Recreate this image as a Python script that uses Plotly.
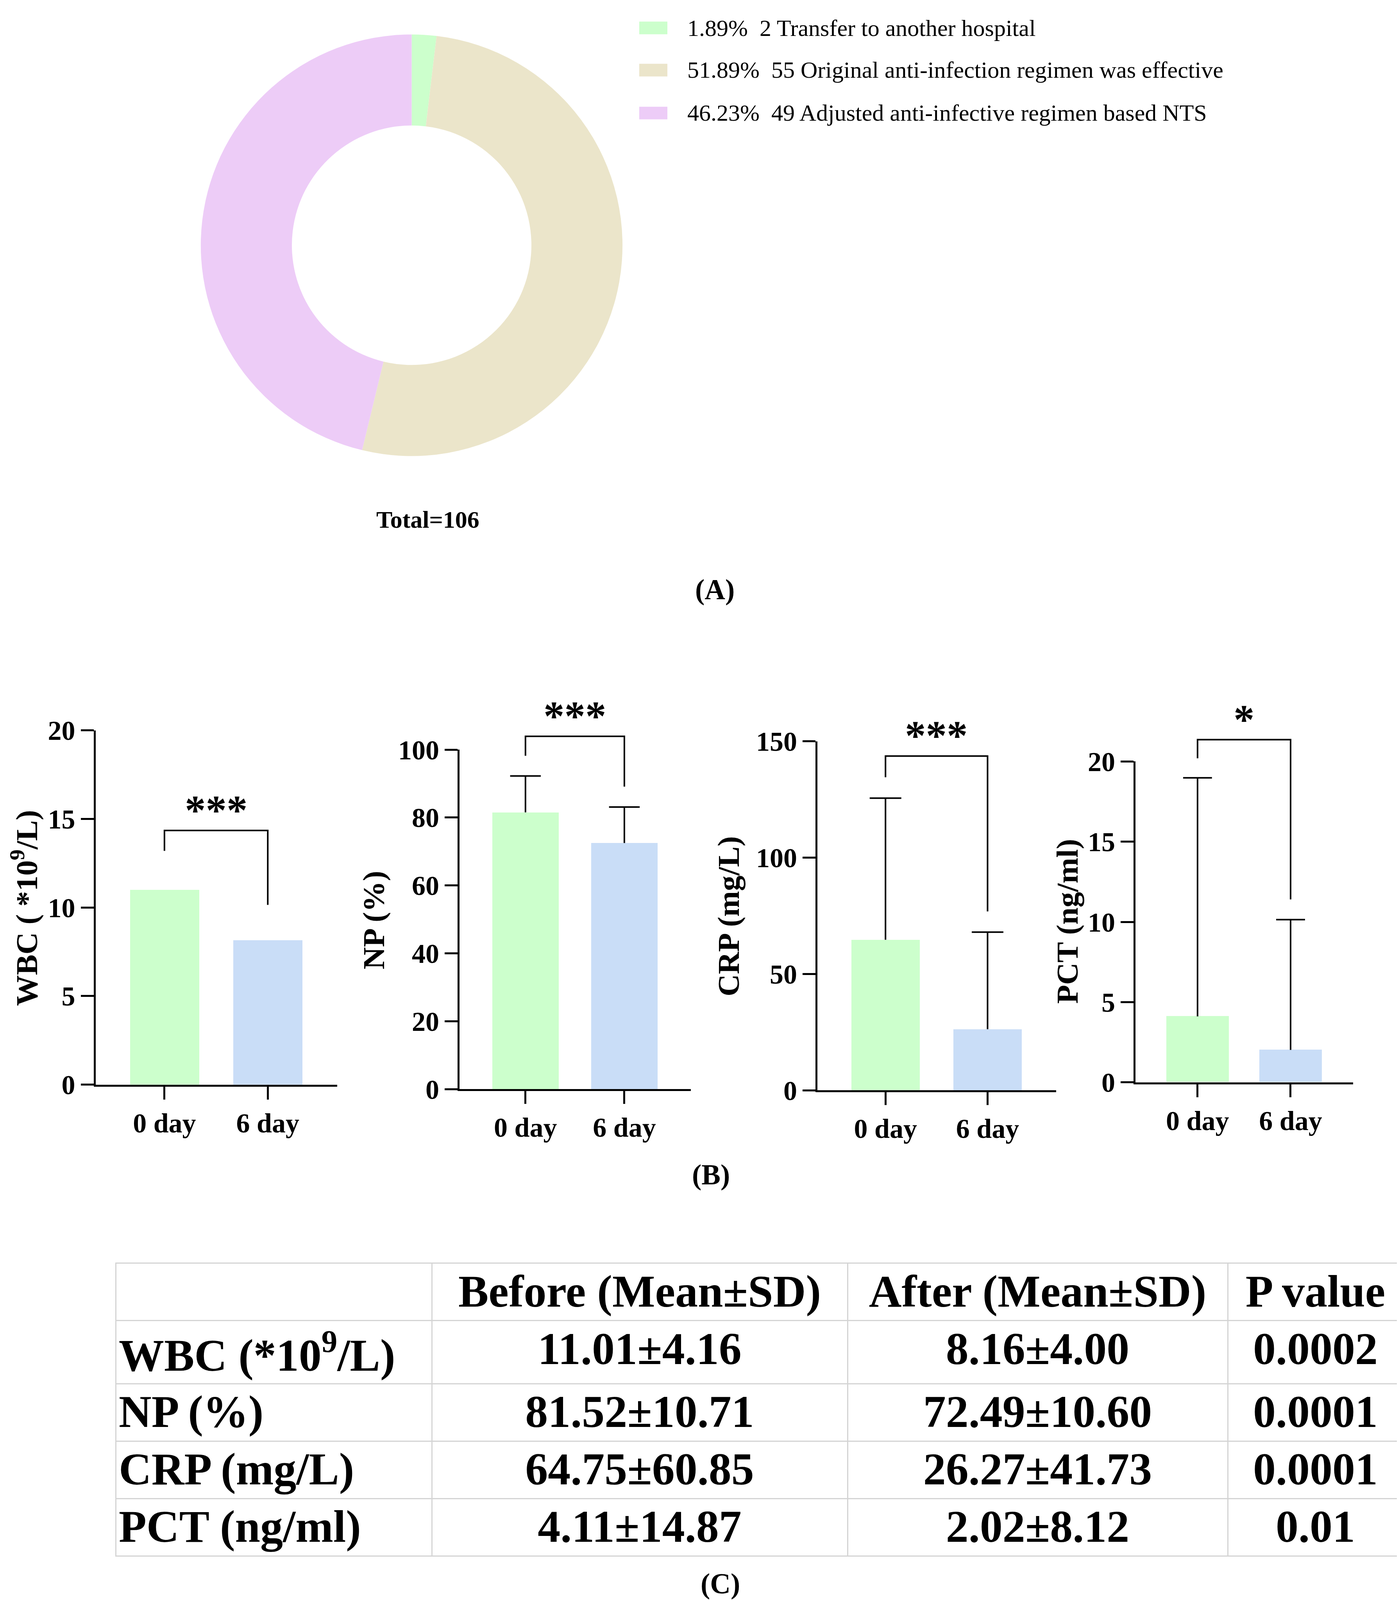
import plotly.graph_objects as go

W, H = 3583, 4138
SERIF = "Liberation Serif, Times New Roman, serif"

# (A) outcome of the patients
outcome_labels = ["Transfer to another hospital",
                  "Original anti-infection regimen was effective",
                  "Adjusted anti-infective regimen based NTS"]
outcome_counts = [2, 55, 49]
outcome_colors = ["#CCFFCC", "#EBE5CA", "#EDCCF7"]

# (B) / (C) inflammatory markers, before vs after
marker_names = ["WBC", "NP", "CRP", "PCT"]
marker_units = ["(*10<sup>9</sup>/L)", "(%)", "(mg/L)", "(ng/ml)"]
axis_titles = ["WBC ( *10<sup>9</sup>/L)", "NP (%)", "CRP (mg/L)", "PCT (ng/ml)"]
day_labels = ["0 day", "6 day"]
mean_before = [11.01, 81.52, 64.75, 4.11]
sd_before = [4.16, 10.71, 60.85, 14.87]
mean_after = [8.16, 72.49, 26.27, 2.02]
sd_after = [4.00, 10.60, 41.73, 8.12]
p_values = ["0.0002", "0.0001", "0.0001", "0.01"]
sig_marks = ["***", "***", "***", "*"]
y_max = [20, 100, 150, 20]
y_dtick = [5, 20, 50, 5]
show_sd = [False, True, True, True]  # WBC panel has no error bars
# comparison brackets (left foot, top, right foot)
bracket_left = [13.2, 98.2, 134.6, 20.2]
bracket_top = [14.35, 103.9, 143.7, 21.36]
bracket_right = [10.15, 89.1, 76.9, 11.4]
bar_colors = ["#CCFFCC", "#C9DDF7"]


def fx(px):
    return px / W


def fy(px):
    return 1 - px / H


def label(text, x, y, size, angle=0):
    fig.add_annotation(text=text, x=fx(x), y=fy(y), xref="paper", yref="paper",
                       xanchor="center", yanchor="middle", textangle=angle,
                       showarrow=False, font=dict(family=SERIF, size=size, color="black"))


fig = go.Figure()

# ---- (A) donut
total = sum(outcome_counts)
cx, cy, r = 1045.5, 593, 550
fig.add_trace(go.Pie(
    values=outcome_counts, labels=outcome_labels,
    marker=dict(colors=outcome_colors, line=dict(width=0)),
    hole=0.568, sort=False, direction="clockwise", rotation=0,
    textinfo="none", showlegend=False,
    domain=dict(x=[fx(cx - r), fx(cx + r)], y=[fy(cy + r), fy(cy - r)])
))

legend_rows = [26, 136, 248]
for k in range(len(outcome_counts)):
    yc = legend_rows[k]
    fig.add_shape(type="rect", xref="paper", yref="paper",
                  x0=fx(1628), x1=fx(1700), y0=fy(yc + 16.5), y1=fy(yc - 16.5),
                  fillcolor=outcome_colors[k], line_width=0)
    pct = 100 * outcome_counts[k] / total
    fig.add_annotation(
        text=f"{pct:.2f}%\u00a0 {outcome_counts[k]} {outcome_labels[k]}",
        x=fx(1749), y=fy(yc), xref="paper", yref="paper",
        xanchor="left", yanchor="middle", showarrow=False,
        font=dict(family=SERIF, size=60, color="black"))

label(f"<b>Total={total}</b>", 1087, 1309, 62)

# ---- (B) bar panels: (x0, x1, y top, y bottom) in pixels
panel_box = [(236.5, 855, 1859, 2783), (1168, 1760, 1909, 2795),
             (2084, 2695, 1887.5, 2798), (2898, 3455, 1940, 2777)]
title_pos = [(54, 2322), (949, 2354), (1857, 2344), (2724, 2357)]
ext_top = 1700
cap = 0.155
tick_font = dict(family=SERIF, size=70, color="black", weight="bold")

axes = {}
for i in range(4):
    n = i + 1
    xs = "x" if n == 1 else f"x{n}"
    ys = "y" if n == 1 else f"y{n}"
    yh = f"y{n + 4}"
    x0, x1, ytop, ybot = panel_box[i]
    d0, d1, de = fy(ybot), fy(ytop), fy(ext_top)
    ext_max = y_max[i] * (de - d0) / (d1 - d0)

    fig.add_trace(go.Bar(
        x=[0, 1], y=[mean_before[i], mean_after[i]], width=0.67,
        marker=dict(color=bar_colors, line=dict(width=0)),
        xaxis=xs, yaxis=ys, showlegend=False))

    if show_sd[i]:
        for j, (m, s) in enumerate([(mean_before[i], sd_before[i]),
                                    (mean_after[i], sd_after[i])]):
            fig.add_trace(go.Scatter(
                x=[j, j, None, j - cap, j + cap],
                y=[m, m + s, None, m + s, m + s],
                mode="lines", line=dict(color="black", width=4),
                xaxis=xs, yaxis=yh, showlegend=False, hoverinfo="skip"))

    fig.add_trace(go.Scatter(
        x=[0, 0, 1, 1],
        y=[bracket_left[i], bracket_top[i], bracket_top[i], bracket_right[i]],
        mode="lines", line=dict(color="black", width=4),
        xaxis=xs, yaxis=yh, showlegend=False, hoverinfo="skip"))

    fig.add_annotation(text=f"<b>{sig_marks[i]}</b>", x=0.5, y=bracket_top[i],
                       xref=xs, yref=yh, xanchor="center", yanchor="bottom",
                       yshift=-10, showarrow=False,
                       font=dict(family=SERIF, size=107, color="black"))

    label(f"<b>{axis_titles[i]}</b>", title_pos[i][0], title_pos[i][1], 79, -90)

    axes["xaxis" if n == 1 else f"xaxis{n}"] = dict(
        domain=[fx(x0), fx(x1)], range=[-0.667, 1.672], anchor=ys,
        tickvals=[0, 1], ticktext=day_labels, tickfont=tick_font,
        showline=True, linecolor="black", linewidth=5,
        ticks="outside", ticklen=33, tickwidth=5, tickcolor="black",
        showgrid=False, zeroline=False)
    axes["yaxis" if n == 1 else f"yaxis{n}"] = dict(
        domain=[d0, d1], range=[0, y_max[i]], tick0=0, dtick=y_dtick[i],
        anchor=xs, tickfont=tick_font,
        showline=True, linecolor="black", linewidth=5,
        ticks="outside", ticklen=33, tickwidth=5, tickcolor="black",
        showgrid=False, zeroline=False)
    axes[f"yaxis{n + 4}"] = dict(domain=[d0, de], range=[0, ext_max],
                                 anchor=xs, visible=False)

# ---- (C) table
header_vals = ["", "Before (Mean±SD)", "After (Mean±SD)", "P value"]
col_names = [f"<b>{marker_names[i]} {marker_units[i]}</b>" for i in range(4)]
col_before = [f"<b>{mean_before[i]:.2f}±{sd_before[i]:.2f}</b>" for i in range(4)]
col_after = [f"<b>{mean_after[i]:.2f}±{sd_after[i]:.2f}</b>" for i in range(4)]
col_p = [f"<b>{p}</b>" for p in p_values]

grid = dict(color="#D4D4D4", width=3)
table_font = dict(family=SERIF, size=116, color="black")
fig.add_trace(go.Table(
    domain=dict(x=[fx(288), 1.0], y=[fy(4040), fy(3249)]),
    columnwidth=[809, 1064, 973, 449],
    header=dict(values=[f"<b>{v}</b>" for v in header_vals],
                align=["left", "center", "center", "center"],
                fill_color="white", line=grid, font=table_font, height=147),
    cells=dict(values=[col_names, col_before, col_after, col_p],
               align=["left", "center", "center", "center"],
               fill_color="white", line=grid, font=table_font, height=147)
))

# panel letters
for lab, (px, py) in zip(["(A)", "(B)", "(C)"], [(1822, 1492), (1812, 3018), (1836, 4086)]):
    label(f"<b>{lab}</b>", px, py, 73)

fig.update_layout(
    width=W, height=H,
    margin=dict(l=0, r=0, t=0, b=0),
    paper_bgcolor="white", plot_bgcolor="rgba(0,0,0,0)",
    font=dict(family=SERIF, color="black"),
    bargap=0, **axes
)

fig.write_html("out.html")
